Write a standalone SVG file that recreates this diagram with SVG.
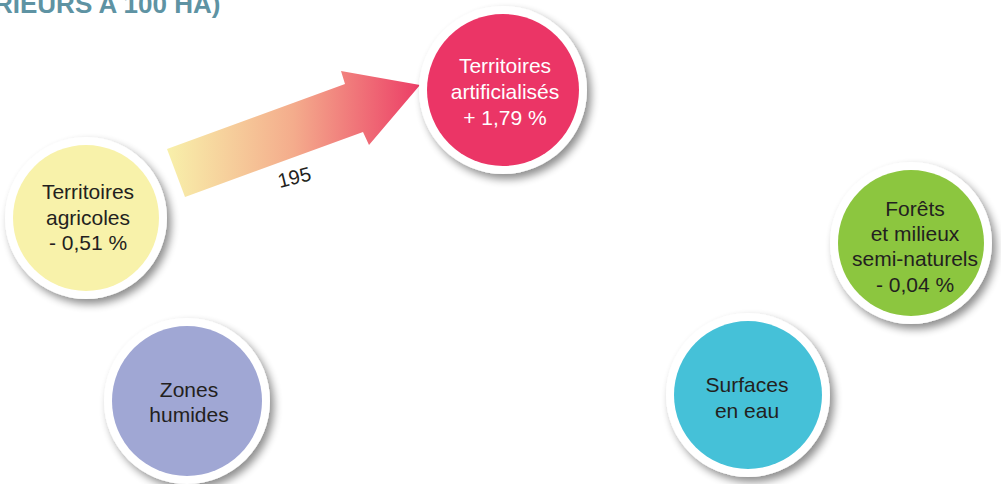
<svg xmlns="http://www.w3.org/2000/svg" width="1001" height="484" viewBox="0 0 1001 484">
  <defs>
    <filter id="shadow" x="-30%" y="-30%" width="160%" height="160%">
      <feGaussianBlur in="SourceAlpha" stdDeviation="4"/>
      <feOffset dx="4" dy="5" result="b"/>
      <feComponentTransfer><feFuncA type="linear" slope="0.45"/></feComponentTransfer>
      <feMerge><feMergeNode/><feMergeNode in="SourceGraphic"/></feMerge>
    </filter>
    <linearGradient id="arrowGrad" gradientUnits="userSpaceOnUse" x1="167" y1="0" x2="420" y2="0">
      <stop offset="0" stop-color="#f8f0aa"/>
      <stop offset="0.5" stop-color="#f4ac8c"/>
      <stop offset="1" stop-color="#ec3d66"/>
    </linearGradient>
  </defs>
  <style>
    .ring { fill: #ffffff; filter: url(#shadow); }
    .lbl { font-family: "Liberation Sans", Arial, sans-serif; font-size: 21px; text-anchor: middle; fill: #231f20; }
    .lbl.white { fill: #ffffff; }
    .title { font-family: "Liberation Sans", Arial, sans-serif; font-size: 26px; font-weight: bold; fill: #5e93a3; }
    .flow { font-family: "Liberation Sans", Arial, sans-serif; font-size: 20px; fill: #231f20; text-anchor: middle; }
  </style>
  <rect width="1001" height="484" fill="#ffffff"/>
  <text class="title" x="-6" y="13">RIEURS A 100 HA)</text>

  <g id="connectors">
    <polygon points="167,149 345,84 341,71 420,85 369,145 363,132 185,197" fill="url(#arrowGrad)"/>
    <text class="flow" transform="translate(296,184) rotate(-14)">195</text>
  </g>

  <g id="node-agricoles">
    <circle class="ring" cx="86" cy="218" r="81"/>
    <circle cx="86" cy="218" r="73" fill="#f8f2aa"/>
    <text class="lbl" x="88" y="199">Territoires</text>
    <text class="lbl" x="88" y="224.5">agricoles</text>
    <text class="lbl" x="88" y="250">- 0,51 %</text>
  </g>

  <g id="node-artificialises">
    <circle class="ring" cx="503" cy="90" r="84"/>
    <circle cx="503" cy="90" r="76" fill="#eb3566"/>
    <text class="lbl white" x="505" y="73">Territoires</text>
    <text class="lbl white" x="505" y="99">artificialisés</text>
    <text class="lbl white" x="505" y="125">+ 1,79 %</text>
  </g>

  <g id="node-forets">
    <circle class="ring" cx="911" cy="243" r="81"/>
    <circle cx="911" cy="243" r="73" fill="#8cc63f"/>
    <text class="lbl" x="915" y="215.5">Forêts</text>
    <text class="lbl" x="915" y="241">et milieux</text>
    <text class="lbl" x="915" y="266">semi-naturels</text>
    <text class="lbl" x="915" y="291.5">- 0,04 %</text>
  </g>

  <g id="node-eau">
    <circle class="ring" cx="748" cy="395" r="82"/>
    <circle cx="748" cy="395" r="74" fill="#45c1d8"/>
    <text class="lbl" x="747" y="392">Surfaces</text>
    <text class="lbl" x="747" y="418">en eau</text>
  </g>

  <g id="node-humides">
    <circle class="ring" cx="187" cy="401" r="83"/>
    <circle cx="187" cy="401" r="75" fill="#a0a7d4"/>
    <text class="lbl" x="189" y="397">Zones</text>
    <text class="lbl" x="189" y="422">humides</text>
  </g>
</svg>
